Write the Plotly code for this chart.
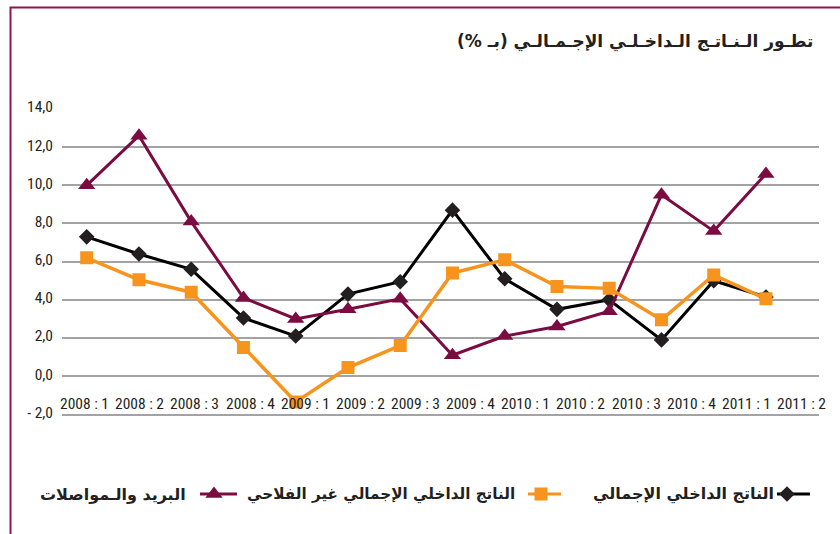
import plotly.graph_objects as go

# ---------------- data ----------------
quarters = ["2008 : 1", "2008 : 2", "2008 : 3", "2008 : 4",
            "2009 : 1", "2009 : 2", "2009 : 3", "2009 : 4",
            "2010 : 1", "2010 : 2", "2010 : 3", "2010 : 4",
            "2011 : 1", "2011 : 2"]

gdp = [7.3, 6.4, 5.6, 3.05, 2.1, 4.3, 4.95, 8.7, 5.1, 3.5, 4.0, 1.9, 5.0, 4.15]
gdp_non_agri = [6.2, 5.05, 4.4, 1.5, -1.35, 0.45, 1.6, 5.4, 6.1, 4.7, 4.6, 2.95, 5.3, 4.05]
post_telecom = [10.0, 12.6, 8.1, 4.1, 3.0, 3.5, 4.05, 1.1, 2.1, 2.6, 3.4, 9.5, 7.6, 10.6]

y_tick_vals = [-2, 0, 2, 4, 6, 8, 10, 12, 14]
y_tick_text = ["- 2,0", "0,0", "2,0", "4,0", "6,0", "8,0", "10,0", "12,0", "14,0"]

name_gdp = "الناتج الداخلي الإجمالي"
name_non_agri = "الناتج الداخلي الإجمالي غير الفلاحي"
name_post = "البريد والـمواصلات"
title_text = "\u200fتطـور الـنـاتـج الـداخـلـي الإجـمـالـي (بـ %)\u200f"

# ---------------- style ----------------
C_BLACK = "#000000"
C_DIAMOND = "#231f20"
C_ORANGE = "#f7941d"
C_PURPLE = "#7b0c42"
C_FRAME = "#8e1550"
C_GRID = "#a3a3a6"
C_TEXT = "#231f20"
NUM_FONT = "Roboto Condensed, Liberation Sans Narrow, DejaVu Sans Condensed, sans-serif"
AR_FONT = "DejaVu Sans, Noto Sans, sans-serif"

W, H = 840, 534
idx = list(range(len(quarters)))
# label slots are a bit wider than the point spacing in the original
tick_pos = [-0.04 + i * 1.0555 for i in idx]
LABEL_Y = -1.45   # category labels sit just above the axis line

fig = go.Figure()

fig.add_trace(go.Scatter(
    x=idx, y=gdp, mode="lines+markers", name=name_gdp, showlegend=False,
    line=dict(color=C_BLACK, width=3),
    marker=dict(symbol="diamond", size=12, color=C_DIAMOND)))
fig.add_trace(go.Scatter(
    x=idx, y=post_telecom, mode="lines+markers", name=name_post, showlegend=False,
    line=dict(color=C_PURPLE, width=3),
    marker=dict(symbol="triangle-up", size=15, color=C_PURPLE)))
fig.add_trace(go.Scatter(
    x=idx, y=gdp_non_agri, mode="lines+markers", name=name_non_agri, showlegend=False,
    line=dict(color=C_ORANGE, width=3.5),
    marker=dict(symbol="square", size=13, color=C_ORANGE)))

# category labels
for pos, lab in zip(tick_pos, quarters):
    fig.add_annotation(x=pos, y=LABEL_Y, xref="x", yref="y", text=lab,
                       showarrow=False, xanchor="center", yanchor="middle",
                       font=dict(family=NUM_FONT, size=15.5, color=C_TEXT))

# ---------- legend (right-to-left, drawn in pixel overlay axes) ----------
legend_items = [
    (name_gdp, C_BLACK, C_DIAMOND, "diamond", 12, 777, 787, 810, 776, 16),
    (name_non_agri, C_ORANGE, C_ORANGE, "square", 13, 528, 541, 561, 517, 15.2),
    (name_post, C_PURPLE, C_PURPLE, "triangle-up", 15, 200, 214, 237, 188, 16),
]
LEG_Y = 494
for name, lc, mc, sym, ms, x0, xm, x1, xt, fs in legend_items:
    fig.add_trace(go.Scatter(
        x=[x0, x1], y=[LEG_Y, LEG_Y], mode="lines", xaxis="x2", yaxis="y2",
        showlegend=False, hoverinfo="skip", line=dict(color=lc, width=3)))
    fig.add_trace(go.Scatter(
        x=[xm], y=[LEG_Y], mode="markers", xaxis="x2", yaxis="y2",
        showlegend=False, hoverinfo="skip",
        marker=dict(symbol=sym, size=ms, color=mc)))
    fig.add_annotation(x=xt, y=LEG_Y, xref="x2", yref="y2", text=name,
                       showarrow=False, xanchor="right", yanchor="middle",
                       font=dict(family=AR_FONT, size=fs, color=C_TEXT, weight="bold"))

# title
fig.add_annotation(x=815, y=41, xref="x2", yref="y2", text=title_text,
                   showarrow=False, xanchor="right", yanchor="middle",
                   font=dict(family=AR_FONT, size=17, color=C_TEXT, weight="bold"))

# outer frame (left and top)
fig.add_shape(type="path", xref="x2", yref="y2",
              path="M 10.5 540 L 10.5 7.5 L 845 7.5",
              line=dict(color=C_FRAME, width=2))

plot_left, plot_right, plot_top, plot_bottom = 62, 819, 109, 414.3

fig.update_layout(
    width=W, height=H,
    margin=dict(l=0, r=0, t=0, b=0, autoexpand=False),
    paper_bgcolor="white",
    plot_bgcolor="rgba(0,0,0,0)",
    showlegend=False,
    xaxis=dict(
        domain=[plot_left / W, plot_right / W],
        range=[-0.473, 14.015],
        showticklabels=False, ticks="",
        showgrid=False, zeroline=False,
        showline=True, linecolor=C_GRID, linewidth=2,
        anchor="y",
    ),
    yaxis=dict(
        domain=[(H - plot_bottom) / H, (H - plot_top) / H],
        range=[-2, 14],
        tickmode="array", tickvals=y_tick_vals, ticktext=y_tick_text,
        ticks="", ticklabelstandoff=8, ticklabelshift=-2,
        showgrid=True, gridcolor=C_GRID, gridwidth=1.5,
        zeroline=False, showline=False,
        tickfont=dict(family=NUM_FONT, size=15.5, color=C_TEXT),
        anchor="x",
    ),
    xaxis2=dict(domain=[0, 1], range=[0, W], visible=False, anchor="y2",
                fixedrange=True),
    yaxis2=dict(domain=[0, 1], range=[H, 0], visible=False, anchor="x2",
                fixedrange=True),
)

fig.write_html("out.html",
               config={"displayModeBar": False},
               post_script="document.body.style.margin='0px';"
                           "document.body.style.overflow='hidden';")
